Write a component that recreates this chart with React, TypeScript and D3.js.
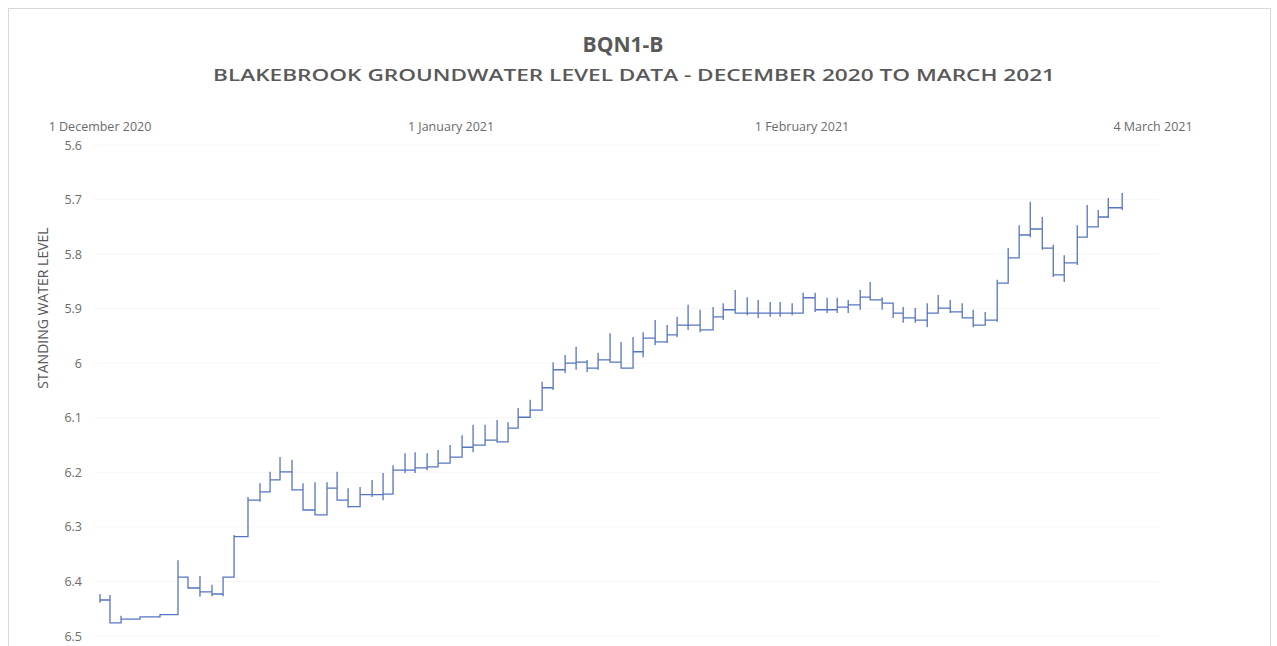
import React from "react";
import * as d3 from "d3";

// Days since 1 December 2020 of each daily reading step
const stepDays = [
  0.0, 0.88, 1.86, 3.53, 5.3, 6.89, 7.77, 8.83, 9.89, 10.87, 11.84, 13.07, 14.13, 15.02, 15.9, 16.96,
  17.93, 18.99, 20.05, 20.94, 21.91, 22.97, 24.03, 25.0, 25.88, 26.94, 27.83, 28.89, 29.86, 30.92,
  31.98, 32.95, 34.01, 35.07, 36.04, 36.93, 37.99, 39.05, 40.02, 41.08, 42.05, 43.02, 43.99, 45.05,
  46.02, 47.08, 47.97, 49.03, 50.09, 50.97, 51.94, 53.0, 54.15, 55.04, 56.1, 57.16, 58.13, 59.19,
  60.07, 61.13, 62.1, 63.16, 64.22, 65.11, 66.08, 67.14, 68.02, 69.08, 70.05, 70.94, 72.0, 73.06,
  74.03, 75.09, 76.15, 77.12, 78.18, 79.24, 80.21, 81.18, 82.16, 83.22, 84.19, 85.16, 86.31, 87.19,
  88.16, 89.05, 90.28,
];
// Highest reading (spike top) at each step
const stepTop = [
  6.423, 6.425, 6.463, 6.465, 6.461, 6.361, 6.394, 6.39, 6.406, 6.392, 6.315, 6.245, 6.22, 6.199, 6.172, 6.177,
  6.22, 6.218, 6.218, 6.199, 6.229, 6.227, 6.214, 6.201, 6.187, 6.165, 6.163, 6.165, 6.159, 6.15,
  6.132, 6.113, 6.113, 6.104, 6.108, 6.082, 6.067, 6.034, 5.998, 5.985, 5.97, 5.994, 5.981, 5.945,
  5.961, 5.952, 5.943, 5.921, 5.93, 5.915, 5.893, 5.902, 5.897, 5.89, 5.866, 5.879, 5.884, 5.888,
  5.888, 5.89, 5.871, 5.871, 5.88, 5.88, 5.884, 5.866, 5.851, 5.879, 5.89, 5.897, 5.899, 5.89,
  5.875, 5.884, 5.89, 5.902, 5.906, 5.847, 5.789, 5.747, 5.704, 5.732, 5.783, 5.802, 5.747, 5.71,
  5.719, 5.697, 5.688,
];
// Lowest reading (spike bottom) at each step
const stepBottom = [
  6.439, 6.476, 6.474, 6.467, 6.463, 6.458, 6.412, 6.428, 6.427, 6.427, 6.392, 6.318, 6.254, 6.236, 6.214, 6.232,
  6.269, 6.278, 6.278, 6.245, 6.265, 6.263, 6.245, 6.251, 6.238, 6.201, 6.201, 6.196, 6.19, 6.183,
  6.172, 6.163, 6.15, 6.146, 6.144, 6.119, 6.099, 6.086, 6.049, 6.018, 6.012, 6.016, 6.012, 5.998,
  6.009, 6.009, 5.989, 5.967, 5.963, 5.952, 5.939, 5.943, 5.939, 5.921, 5.908, 5.912, 5.917, 5.915,
  5.915, 5.912, 5.908, 5.906, 5.908, 5.908, 5.908, 5.902, 5.884, 5.902, 5.917, 5.926, 5.926, 5.934,
  5.908, 5.908, 5.917, 5.934, 5.93, 5.924, 5.853, 5.807, 5.769, 5.792, 5.842, 5.851, 5.82, 5.752,
  5.737, 5.734, 5.719,
];
// Settled level held until the next step
const stepLevel = [
  6.434, 6.476, 6.469, 6.465, 6.461, 6.392, 6.412, 6.419, 6.423, 6.392, 6.318, 6.251, 6.236, 6.214, 6.199, 6.232,
  6.269, 6.278, 6.229, 6.251, 6.263, 6.241, 6.241, 6.24, 6.196, 6.196, 6.192, 6.19, 6.183, 6.172,
  6.154, 6.15, 6.141, 6.144, 6.119, 6.099, 6.086, 6.045, 6.012, 6.0, 5.998, 6.009, 5.994, 5.998,
  6.009, 5.979, 5.954, 5.961, 5.948, 5.93, 5.93, 5.939, 5.915, 5.902, 5.908, 5.908, 5.908, 5.908,
  5.908, 5.908, 5.88, 5.902, 5.902, 5.897, 5.893, 5.879, 5.884, 5.89, 5.908, 5.917, 5.921, 5.908,
  5.899, 5.906, 5.917, 5.93, 5.921, 5.853, 5.807, 5.765, 5.754, 5.789, 5.838, 5.816, 5.769, 5.75,
  5.732, 5.715, 5.715,
];

const yTicks = [5.6, 5.7, 5.8, 5.9, 6, 6.1, 6.2, 6.3, 6.4, 6.5];
const xTickDates = ["2020-12-01", "2021-01-01", "2021-02-01", "2021-03-04"];
const titleText = "BQN1-B";
const subtitleText = "BLAKEBROOK GROUNDWATER LEVEL DATA - DECEMBER 2020 TO MARCH 2021";
const yAxisTitle = "STANDING WATER LEVEL";

const W = 1277;
const H = 646;
const FONT = "'Open Sans', 'Liberation Sans', sans-serif";

export default function App() {
  const start = new Date(Date.UTC(2020, 11, 1));
  const end = new Date(Date.UTC(2021, 2, 4));
  const x = d3.scaleUtc().domain([start, end]).range([100, 1153]);
  const y = d3.scaleLinear().domain([5.6, 6.5]).range([145, 636]);
  const dayToDate = (d: number) => new Date(start.getTime() + d * 86400000);

  const pts: [number, number][] = [];
  stepDays.forEach((d, i) => {
    const t = dayToDate(d);
    if (i > 0) pts.push([x(t), y(stepLevel[i - 1])]);
    pts.push([x(t), y(stepTop[i])]);
    pts.push([x(t), y(stepBottom[i])]);
    pts.push([x(t), y(stepLevel[i])]);
  });
  const line = d3.line<[number, number]>().x((p) => p[0]).y((p) => p[1]);
  const fmtDate = d3.utcFormat("%-d %B %Y");

  return (
    <svg
      width={W}
      height={H}
      style={{ position: "absolute", left: 0, top: 0, background: "#fff" }}
      fontFamily={FONT}
    >
      <rect x={0} y={0} width={W} height={H} fill="#fff" />
      <rect x={8.5} y={8.5} width={1262} height={700} fill="none" stroke="#d9d9d9" strokeWidth={1} />
      <text x={623} y={52} textAnchor="middle" fontSize={21} fontWeight={700} fill="#595959">
        {titleText}
      </text>
      <text
        x={634}
        y={81}
        textAnchor="middle"
        fontSize={17}
        fontWeight={600}
        fill="#595959"
        textLength={842}
        lengthAdjust="spacingAndGlyphs"
      >
        {subtitleText}
      </text>
      {yTicks.map((v) => (
        <line key={"g" + v} x1={94} x2={1159} y1={y(v)} y2={y(v)} stroke="#f6f6f6" strokeWidth={1} />
      ))}
      {yTicks.map((v) => (
        <text key={"y" + v} x={82} y={y(v) + 4.5} textAnchor="end" fontSize={12.5} fill="#6b6b6b">
          {String(v)}
        </text>
      ))}
      {xTickDates.map((s) => {
        const dt = new Date(s + "T00:00:00Z");
        return (
          <text key={s} x={x(dt)} y={131} textAnchor="middle" fontSize={12.5} fill="#6b6b6b">
            {fmtDate(dt)}
          </text>
        );
      })}
      <text
        transform={`translate(48,${308}) rotate(-90)`}
        textAnchor="middle"
        fontSize={14}
        fill="#595959"
      >
        {yAxisTitle}
      </text>
      <path d={line(pts) || ""} fill="none" stroke="#5574c2" strokeWidth={1.3} strokeLinejoin="miter" />
    </svg>
  );
}
